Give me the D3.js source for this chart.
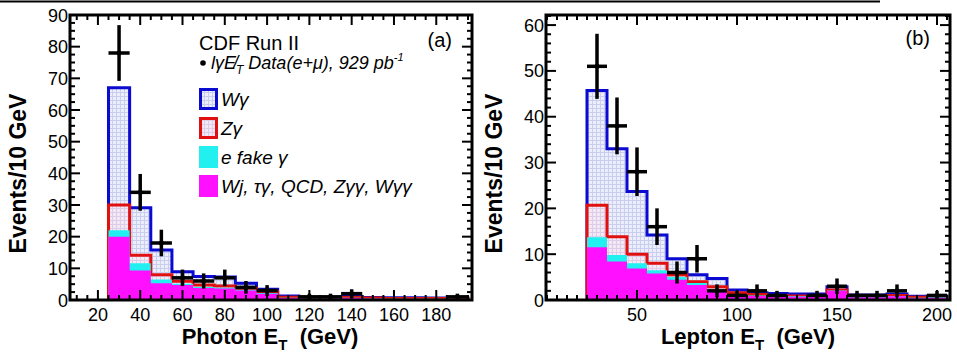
<!DOCTYPE html>
<html>
<head>
<meta charset="utf-8">
<script src="https://cdn.jsdelivr.net/npm/d3@7"></script>
<style>
  html, body { margin: 0; padding: 0; background: #fff; }
  svg { display: block; font-family: "Liberation Sans", Arial, Helvetica, sans-serif; }
</style>
</head>
<body>
<svg id="chart" width="957" height="352"></svg>
<script>
// ---- Photon E_T panel (a): 10 GeV bins, centres 30..190 ----
const photonCenters = [30, 40, 50, 60, 70, 80, 90, 100, 110, 120, 130, 140, 150, 160, 170, 180, 190];
const photonOther   = [20.0, 9.3, 5.3, 4.7, 3.8, 3.6, 3.0, 2.0, 0.6, 0.4, 0.4, 0.6, 0.4, 0.3, 0.3, 0.3, 0.3];
const photonEfake   = [2.0, 2.3, 1.2, 0.4, 0.3, 0.3, 0.2, 0.2, 0.1, 0.1, 0.1, 0.1, 0.1, 0.1, 0.1, 0.1, 0.1];
const photonZg      = [8.0, 2.5, 1.5, 0.8, 0.6, 0.5, 0.4, 0.3, 0.2, 0.1, 0.1, 0.1, 0.1, 0.1, 0.1, 0.1, 0.1];
const photonWg      = [37.0, 15.0, 7.8, 3.0, 2.7, 2.9, 1.7, 0.9, 0.4, 0.3, 0.3, 0.3, 0.2, 0.2, 0.2, 0.1, 0.1];
const photonData    = [78, 34, 18, 7, 6, 7, 4, 3, 0, 1, 1, 2, 0, 0, 0, 0, 1];
const photonErr     = [8.8, 5.8, 4.2, 2.6, 2.4, 2.6, 2.0, 1.7, 0, 1.0, 1.0, 1.4, 0, 0, 0, 0, 1.0];
const photonXTicks  = [20, 40, 60, 80, 100, 120, 140, 160, 180];
const photonYTicks  = [0, 10, 20, 30, 40, 50, 60, 70, 80, 90];

// ---- Lepton E_T panel (b): 10 GeV bins, centres 30..200 ----
const leptonCenters = [30, 40, 50, 60, 70, 80, 90, 100, 110, 120, 130, 140, 150, 160, 170, 180, 190, 200];
const leptonOther   = [11.5, 8.4, 6.9, 5.8, 4.4, 3.3, 1.8, 1.0, 0.9, 0.8, 0.7, 0.7, 2.0, 0.6, 0.6, 0.8, 0.4, 0.5];
const leptonEfake   = [2.2, 1.4, 1.1, 0.7, 0.6, 0.4, 0.4, 0.3, 0.1, 0.1, 0.1, 0.1, 0.1, 0.1, 0.1, 0.1, 0.1, 0.1];
const leptonZg      = [7.0, 4.0, 2.0, 1.5, 0.5, 0.3, 0.7, 0.3, 0.2, 0.1, 0.1, 0.1, 0.1, 0.1, 0.1, 0.1, 0.1, 0.1];
const leptonWg      = [25.0, 19.2, 13.7, 6.2, 3.5, 1.5, 1.8, 0.6, 0.4, 0.4, 0.4, 0.4, 0.7, 0.3, 0.3, 0.3, 0.2, 0.2];
const leptonData    = [51, 38, 28, 16, 6, 9, 2, 1, 2, 1, 0, 1, 3, 1, 1, 2, 0, 1];
const leptonErr     = [7.1, 6.2, 5.3, 4.0, 2.4, 3.0, 1.4, 1.0, 1.4, 1.0, 0, 1.0, 1.7, 1.0, 1.0, 1.4, 0, 1.0];
const leptonXTicks  = [50, 100, 150, 200];
const leptonYTicks  = [0, 10, 20, 30, 40, 50, 60];

const binWidth = 10;
const stackKeys = ["other", "efake", "zg", "wg"];   // bottom -> top

const svg = d3.select("#chart");

// hatched fills for the Wγ and Zγ components
const defs = svg.append("defs");
function gridPattern(id, bg, line) {
  const p = defs.append("pattern").attr("id", id).attr("patternUnits", "userSpaceOnUse")
    .attr("width", 4).attr("height", 4);
  p.append("rect").attr("width", 4).attr("height", 4).attr("fill", bg);
  p.append("rect").attr("width", 4).attr("height", 1).attr("fill", line);
  p.append("rect").attr("width", 1).attr("height", 4).attr("fill", line);
}
gridPattern("hatchW", "#eceefb", "#c9cdef");
gridPattern("hatchZ", "#f2e9f5", "#dccbe9");

// thin rule across the top of the page
svg.append("line").attr("x1", 0).attr("x2", 880).attr("y1", 1.5).attr("y2", 1.5)
  .attr("stroke", "#000").attr("stroke-width", 2);

const styles = {
  wg:    { fill: "url(#hatchW)", stroke: "#0a0ad0", sw: 3 },
  zg:    { fill: "url(#hatchZ)", stroke: "#e01010", sw: 3 },
  efake: { fill: "#22f0f0", stroke: "none", sw: 0 },
  other: { fill: "#ff10ff", stroke: "none", sw: 0 }
};

function drawPanel(cfg) {
  const g = svg.append("g");
  const x = d3.scaleLinear().domain(cfg.xDomain).range([cfg.left, cfg.right]);
  const y = d3.scaleLinear().domain(cfg.yDomain).range([cfg.bottom, cfg.top]);

  const clipId = "clip-" + cfg.id;
  defs.append("clipPath").attr("id", clipId).append("rect")
    .attr("x", cfg.left).attr("y", cfg.top)
    .attr("width", cfg.right - cfg.left).attr("height", cfg.bottom - cfg.top);

  const rows = cfg.centers.map((c, i) => ({
    c, other: cfg.other[i], efake: cfg.efake[i], zg: cfg.zg[i], wg: cfg.wg[i]
  }));
  const series = d3.stack().keys(stackKeys)(rows);

  const plot = g.append("g").attr("clip-path", `url(#${clipId})`);

  // cumulative histograms, drawn from the top of the stack downwards
  const area = d3.area().curve(d3.curveStepAfter)
    .x(d => x(d.e)).y0(y(0)).y1(d => y(d.v));
  const line = d3.line().curve(d3.curveStepAfter)
    .x(d => x(d.e)).y(d => y(d.v));

  series.slice().reverse().forEach(s => {
    const pts = s.map((d, i) => ({ e: cfg.centers[i] - binWidth / 2, v: d[1] }));
    const last = s[s.length - 1];
    pts.push({ e: cfg.centers[s.length - 1] + binWidth / 2, v: last[1] });
    const st = styles[s.key];
    plot.append("path").datum(pts).attr("d", area).attr("fill", st.fill).attr("stroke", "none");
    if (st.stroke !== "none") {
      const outline = [{ e: pts[0].e, v: 0 }, ...pts, { e: pts[pts.length - 1].e, v: 0 }];
      plot.append("path").datum(outline).attr("d", line)
        .attr("fill", "none").attr("stroke", st.stroke).attr("stroke-width", st.sw);
    }
  });

  // data points with error bars
  const pts = cfg.centers.map((c, i) => ({ c, n: cfg.data[i], err: cfg.err[i] })).filter(d => d.n > 0);
  const dg = plot.append("g").attr("stroke", "#000").attr("stroke-width", 3.5);
  dg.selectAll("line.h").data(pts).join("line").attr("class", "h")
    .attr("x1", d => x(d.c - binWidth / 2)).attr("x2", d => x(d.c + binWidth / 2))
    .attr("y1", d => y(d.n)).attr("y2", d => y(d.n));
  dg.selectAll("line.v").data(pts).join("line").attr("class", "v")
    .attr("x1", d => x(d.c)).attr("x2", d => x(d.c))
    .attr("y1", d => y(d.n - d.err)).attr("y2", d => y(d.n + d.err));
  plot.append("g").selectAll("circle").data(pts).join("circle")
    .attr("cx", d => x(d.c)).attr("cy", d => y(d.n)).attr("r", 2.5).attr("fill", "#000");

  // ticks on all four sides, pointing inwards
  const tg = g.append("g").attr("stroke", "#000").attr("stroke-width", 2);
  const xMinor = d3.range(Math.ceil(cfg.xDomain[0] / cfg.xMinor) * cfg.xMinor, cfg.xDomain[1] + 1e-9, cfg.xMinor);
  xMinor.forEach(v => {
    const major = Math.abs(v / cfg.xMajor - Math.round(v / cfg.xMajor)) < 1e-6;
    const len = major ? 10 : 5;
    tg.append("line").attr("x1", x(v)).attr("x2", x(v)).attr("y1", cfg.bottom).attr("y2", cfg.bottom - len);
    tg.append("line").attr("x1", x(v)).attr("x2", x(v)).attr("y1", cfg.top).attr("y2", cfg.top + len);
  });
  const yMinor = d3.range(0, cfg.yDomain[1] + 1e-9, cfg.yMinor);
  yMinor.forEach(v => {
    const major = Math.abs(v / 10 - Math.round(v / 10)) < 1e-6;
    const len = major ? 10 : 5;
    tg.append("line").attr("y1", y(v)).attr("y2", y(v)).attr("x1", cfg.left).attr("x2", cfg.left + len);
    tg.append("line").attr("y1", y(v)).attr("y2", y(v)).attr("x1", cfg.right).attr("x2", cfg.right - len);
  });

  // frame
  g.append("rect").attr("x", cfg.left).attr("y", cfg.top)
    .attr("width", cfg.right - cfg.left).attr("height", cfg.bottom - cfg.top)
    .attr("fill", "none").attr("stroke", "#000").attr("stroke-width", 3);

  // tick labels
  g.append("g").selectAll("text").data(cfg.xTicks).join("text")
    .attr("x", d => x(d)).attr("y", cfg.bottom + 21)
    .attr("text-anchor", "middle").attr("font-size", 18).text(d => d);
  g.append("g").selectAll("text").data(cfg.yTicks).join("text")
    .attr("x", cfg.left - 2).attr("y", d => y(d) + 6.5)
    .attr("text-anchor", "end").attr("font-size", 18).text(d => d);

  // axis titles
  g.append("text").attr("transform", `translate(${cfg.left - 44},${(cfg.top + cfg.bottom) / 2 + 16}) rotate(-90)`)
    .attr("text-anchor", "middle").attr("font-size", 23).attr("font-weight", "bold")
    .text("Events/10 GeV");
  const xt = g.append("text").attr("x", cfg.titleX).attr("y", 344)
    .attr("text-anchor", "middle").attr("font-size", 22).attr("font-weight", "bold");
  xt.append("tspan").text(cfg.xTitle + " E");
  xt.append("tspan").attr("font-size", 15).attr("dy", 6).text("T");
  xt.append("tspan").attr("dy", -6).text("\u00a0 (GeV)");

  // panel tag
  g.append("text").attr("x", cfg.right - 20).attr("y", cfg.tagY)
    .attr("text-anchor", "end").attr("font-size", 20).text(cfg.tag);

  return g;
}

const gA = drawPanel({
  id: "a", left: 70, right: 472, top: 15, bottom: 300,
  xDomain: [6.8, 196.9], yDomain: [0, 90], xMajor: 20, xMinor: 5, yMinor: 2.5,
  centers: photonCenters, other: photonOther, efake: photonEfake, zg: photonZg, wg: photonWg,
  data: photonData, err: photonErr, xTicks: photonXTicks, yTicks: photonYTicks,
  xTitle: "Photon", titleX: 270, tag: "(a)", tagY: 47
});

drawPanel({
  id: "b", left: 546, right: 950, top: 15, bottom: 300,
  xDomain: [4.5, 206.5], yDomain: [0, 62.2], xMajor: 50, xMinor: 5, yMinor: 2,
  centers: leptonCenters, other: leptonOther, efake: leptonEfake, zg: leptonZg, wg: leptonWg,
  data: leptonData, err: leptonErr, xTicks: leptonXTicks, yTicks: leptonYTicks,
  xTitle: "Lepton", titleX: 748, tag: "(b)", tagY: 45
});

// legend in panel (a)
const leg = gA.append("g");
leg.append("text").attr("x", 199).attr("y", 50).attr("font-size", 20).text("CDF Run II");
leg.append("circle").attr("cx", 203).attr("cy", 63).attr("r", 2.8).attr("fill", "#000");
const dl = leg.append("text").attr("x", 211).attr("y", 69).attr("font-size", 18).attr("font-style", "italic");
dl.append("tspan").text("l\u03b3");
dl.append("tspan").text("E\u0338");
dl.append("tspan").attr("font-size", 12).attr("dy", 5).text("T");
dl.append("tspan").attr("dy", -5).text(" Data(e+\u03bc), 929 pb");
dl.append("tspan").attr("font-size", 11).attr("dy", -8).text("-1");

const legendItems = [
  { key: "wg",    label: "W\u03b3", y: 88 },
  { key: "zg",    label: "Z\u03b3", y: 117 },
  { key: "efake", label: "e fake \u03b3", y: 146 },
  { key: "other", label: "Wj, \u03c4\u03b3, QCD, Z\u03b3\u03b3, W\u03b3\u03b3", y: 175 }
];
legendItems.forEach(it => {
  const st = styles[it.key];
  leg.append("rect").attr("x", st.sw ? 200.5 : 199).attr("y", it.y + (st.sw ? 1.5 : 0))
    .attr("width", st.sw ? 16 : 19).attr("height", st.sw ? 19 : 22)
    .attr("fill", st.fill).attr("stroke", st.stroke).attr("stroke-width", st.sw);
  leg.append("text").attr("x", 221).attr("y", it.y + 18).attr("font-size", 19)
    .attr("font-style", "italic").text(it.label);
});
</script>
</body>
</html>
